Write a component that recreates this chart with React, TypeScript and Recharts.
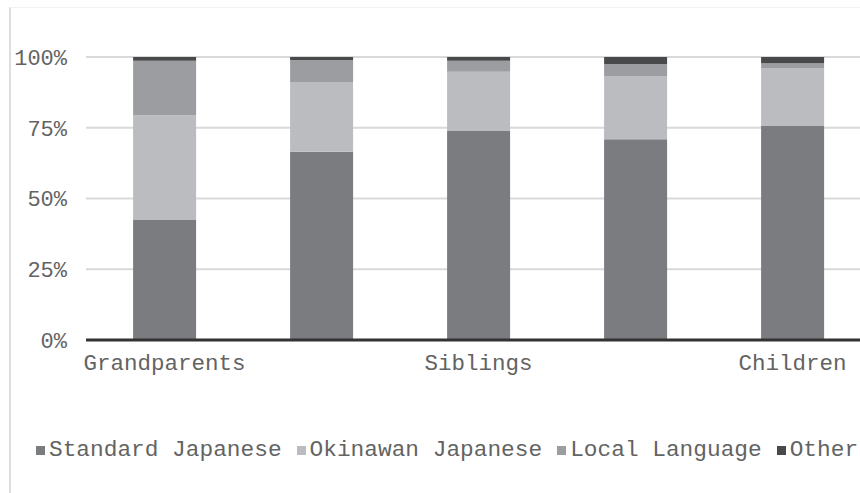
import React from 'react';
import { BarChart, Bar, XAxis, YAxis, CartesianGrid, Legend } from 'recharts';

const categories = ['Grandparents', 'Parents', 'Siblings', 'Spouse', 'Children'];
const standardJapanese = [42.4, 66.5, 74.0, 70.9, 75.6];
const okinawanJapanese = [37.0, 24.7, 20.8, 22.4, 20.5];
const localLanguage = [19.3, 7.7, 3.9, 4.2, 1.7];
const other = [1.3, 1.1, 1.3, 2.5, 2.2];
const yTicks = [0, 25, 50, 75, 100];

const seriesKeys = ['std', 'oki', 'local', 'other'];
const seriesNames = ['Standard Japanese', 'Okinawan Japanese', 'Local Language', 'Other'];
const seriesColors = ['#7b7c80', '#bbbcbf', '#9c9da0', '#48494b'];

const data = categories.map((c, i) => ({
  name: c,
  std: standardJapanese[i],
  oki: okinawanJapanese[i],
  local: localLanguage[i],
  other: other[i],
}));

const FONT = '"Liberation Mono", "Courier New", monospace';
const TEXT = '#636363';

const LegendContent = () => {
  return (
    <div
      style={{
        display: 'flex',
        alignItems: 'center',
        height: 30,
        paddingLeft: 36,
        fontFamily: FONT,
        fontSize: 22.8,
        color: TEXT,
        whiteSpace: 'nowrap',
      }}
    >
      {seriesNames.map((name, i) => (
        <div key={name} style={{ display: 'flex', alignItems: 'center', marginRight: 15 }}>
          <span style={{ display: 'inline-block', width: 9, height: 9, background: seriesColors[i], marginRight: 4 }} />
          <span>{name}</span>
        </div>
      ))}
    </div>
  );
};

export default function App() {
  return (
    <div style={{ position: 'fixed', left: 0, top: 0, width: 860, height: 493, overflow: 'hidden', background: '#fff' }}>
      <div
        style={{
          position: 'absolute',
          left: 9,
          top: 7,
          width: 900,
          height: 600,
          borderLeft: '2px solid #dedede',
          borderTop: '1px solid #f2f2f2',
        }}
      />
      <div style={{ position: 'absolute', left: 0, top: 0 }}>
        <BarChart
          width={880}
          height={493}
          data={data}
          margin={{ top: 57, right: 9, left: 0, bottom: 28 }}
          barCategoryGap="30%"
        >
          <CartesianGrid vertical={false} stroke="#d9d9d9" strokeWidth={2} />
          <XAxis
            dataKey="name"
            interval={1}
            height={95}
            tickLine={false}
            tickSize={0}
            tickMargin={14}
            axisLine={{ stroke: '#333333', strokeWidth: 3 }}
            tick={{ fontFamily: FONT, fontSize: 22.5, fill: TEXT }}
          />
          <YAxis
            width={86}
            domain={[0, 100]}
            ticks={yTicks}
            tickFormatter={(v: number) => `${v}%`}
            axisLine={false}
            tickLine={false}
            tickSize={0}
            tickMargin={19}
            tick={{ fontFamily: FONT, fontSize: 22, fill: TEXT }}
          />
          {seriesKeys.map((k, i) => (
            <Bar
              key={k}
              dataKey={k}
              name={seriesNames[i]}
              stackId="a"
              fill={seriesColors[i]}
              isAnimationActive={false}
            />
          ))}
          <Legend
            verticalAlign="bottom"
            align="left"
            content={<LegendContent />}
            wrapperStyle={{ left: 0, width: 880, height: 30 }}
          />
        </BarChart>
      </div>
    </div>
  );
}
